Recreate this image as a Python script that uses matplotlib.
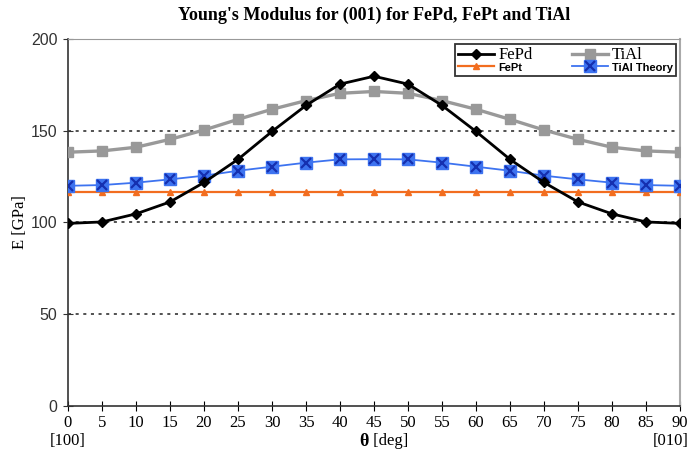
import numpy as np
import matplotlib.pyplot as plt
from matplotlib.legend_handler import HandlerTuple

# angle from [100] to [010]
theta = [0, 5, 10, 15, 20, 25, 30, 35, 40, 45, 50, 55, 60, 65, 70, 75, 80, 85, 90]

fepd = [99.5, 100.3, 104.7, 111.2, 121.8, 134.4, 149.6, 163.8, 175.4, 179.7,
        175.4, 163.8, 149.6, 134.4, 121.8, 111.2, 104.7, 100.3, 99.5]
tial = [138.3, 139.0, 141.0, 145.3, 150.4, 156.2, 161.7, 166.4, 170.4, 171.4,
        170.4, 166.4, 161.7, 156.2, 150.4, 145.3, 141.0, 139.0, 138.3]
fept = [116.4] * 19
tial_theory = [120.0, 120.4, 121.7, 123.5, 125.5, 128.2, 130.4, 132.6, 134.4, 134.5,
               134.4, 132.6, 130.4, 128.2, 125.5, 123.5, 121.7, 120.4, 120.0]

serif = 'Liberation Serif'
sans = 'Liberation Sans'

fig = plt.figure(figsize=(6.91, 4.57), dpi=100)
ax = fig.add_axes([0.0984, 0.1116, 0.8857, 0.8031])

# dotted gridlines
for yv in [50, 100, 150]:
    ax.axhline(yv, color='#222222', lw=1.1, ls=(0, (2, 3)), zorder=1)

l_fept, = ax.plot(theta, fept, color='#f26d1f', lw=1.6, marker='^', ms=5,
                  zorder=3)
l_tial, = ax.plot(theta, tial, color='#999999', lw=2.4, marker='s', ms=7.5,
                  zorder=3)
l_th1, = ax.plot(theta, tial_theory, color='#3d73f0', lw=1.3, marker='s',
                 ms=8, mfc='#3d73f0', mec='#3d73f0', zorder=4)
l_th2, = ax.plot(theta, tial_theory, ls='none', marker='x', ms=7, mew=1.6,
                 color='#1530b0', zorder=5)
l_fepd, = ax.plot(theta, fepd, color='black', lw=2.0, marker='D', ms=5,
                  zorder=6)

ax.set_xlim(0, 90)
ax.set_ylim(0, 200)
ax.set_xticks(theta)
ax.set_yticks([0, 50, 100, 150, 200])
ax.tick_params(axis='x', direction='inout', length=7, labelsize=12, pad=3)
ax.tick_params(axis='y', direction='inout', length=7, labelsize=11.5, pad=4,
               colors='#333333')
for lab in ax.get_xticklabels():
    lab.set_family(serif)
for lab in ax.get_yticklabels():
    lab.set_family(sans)
    lab.set_color('#333333')

ax.spines['left'].set_color('#333333')
ax.spines['bottom'].set_color('#333333')
ax.spines['left'].set_linewidth(1.2)
ax.spines['bottom'].set_linewidth(1.2)
ax.spines['top'].set_color('#999999')
ax.spines['right'].set_color('#aaaaaa')
ax.spines['right'].set_linewidth(1.5)

ax.set_title("Young's Modulus for (001) for FePd, FePt and TiAl",
             family=serif, fontsize=13, fontweight='bold', pad=14)
ax.set_ylabel('E [GPa]', family=serif, fontsize=12, labelpad=2)
ax.text(44.2, -14.5, '\u03b8', family=serif, fontsize=13, fontweight='bold',
        ha='right', va='top')
ax.text(44.3, -14.5, ' [deg]', family=serif, fontsize=12, ha='left', va='top')
ax.text(0, -14.5, '[100]', family=serif, fontsize=12, ha='center', va='top')
ax.text(91.3, -14.5, '[010]', family=serif, fontsize=12, ha='right', va='top')

leg = ax.legend([l_fepd, l_fept, l_tial, (l_th1, l_th2)],
                ['FePd', 'FePt', 'TiAl', 'TiAl Theory'],
                handler_map={tuple: HandlerTuple(ndivide=1, pad=0)},
                ncol=2, loc='upper right', bbox_to_anchor=(0.993, 0.986),
                borderaxespad=0, frameon=True, fancybox=False,
                edgecolor='black', handlelength=2.6, handletextpad=0.3,
                columnspacing=2.8, labelspacing=-0.1, borderpad=0.2)
leg.get_frame().set_linewidth(1.3)
for txt in leg.get_texts():
    if txt.get_text() in ('FePd', 'TiAl'):
        txt.set_family(serif)
        txt.set_fontsize(12)
    else:
        txt.set_family(sans)
        txt.set_fontweight('bold')
        txt.set_fontsize(8)

plt.savefig('out.png', dpi=100)
